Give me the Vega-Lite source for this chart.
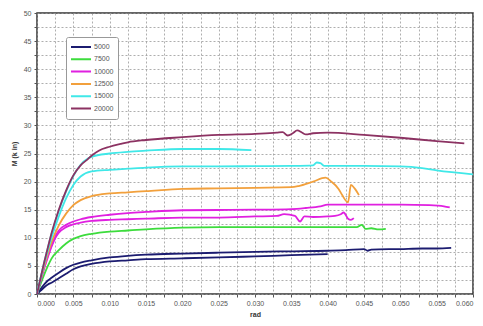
{
  "$schema": "https://vega.github.io/schema/vega-lite/v6.json",
  "width": 436,
  "height": 281,
  "autosize": {"type": "none"},
  "padding": {"left": 37, "top": 13, "right": 10, "bottom": 32},
  "background": "white",
  "config": {
    "view": {"stroke": "#333333", "strokeWidth": 1.5},
    "font": "Liberation Sans",
    "axis": {
      "labelFont": "Liberation Sans",
      "labelFontSize": 7,
      "labelColor": "#555555",
      "titleFont": "Liberation Sans",
      "titleFontSize": 7,
      "titleColor": "#333333",
      "gridColor": "#999999",
      "gridDash": [2, 2],
      "gridWidth": 0.8,
      "tickColor": "#555555",
      "tickSize": 3,
      "domain": false
    }
  },
  "data": {"values": [
    {"x":0,"m":0,"s":"5000","r":"5000a"},{"x":0.0005,"m":0.9,"s":"5000","r":"5000a"},{"x":0.001,"m":1.7,"s":"5000","r":"5000a"},{"x":0.0015,"m":2.4,"s":"5000","r":"5000a"},{"x":0.002,"m":2.9,"s":"5000","r":"5000a"},{"x":0.003,"m":3.8,"s":"5000","r":"5000a"},{"x":0.004,"m":4.6,"s":"5000","r":"5000a"},{"x":0.005,"m":5.2,"s":"5000","r":"5000a"},{"x":0.006,"m":5.6,"s":"5000","r":"5000a"},{"x":0.0075,"m":6.0,"s":"5000","r":"5000a"},{"x":0.01,"m":6.5,"s":"5000","r":"5000a"},{"x":0.0125,"m":6.8,"s":"5000","r":"5000a"},{"x":0.015,"m":7.0,"s":"5000","r":"5000a"},{"x":0.02,"m":7.2,"s":"5000","r":"5000a"},{"x":0.025,"m":7.35,"s":"5000","r":"5000a"},{"x":0.03,"m":7.5,"s":"5000","r":"5000a"},{"x":0.035,"m":7.6,"s":"5000","r":"5000a"},{"x":0.04,"m":7.7,"s":"5000","r":"5000a"},{"x":0.0425,"m":7.8,"s":"5000","r":"5000a"},{"x":0.045,"m":8.0,"s":"5000","r":"5000a"},{"x":0.0455,"m":7.7,"s":"5000","r":"5000a"},{"x":0.046,"m":7.9,"s":"5000","r":"5000a"},{"x":0.05,"m":8.0,"s":"5000","r":"5000a"},{"x":0.053,"m":8.1,"s":"5000","r":"5000a"},{"x":0.055,"m":8.1,"s":"5000","r":"5000a"},{"x":0.057,"m":8.2,"s":"5000","r":"5000a"},
    {"x":0,"m":0,"s":"5000","r":"5000b"},{"x":0.0005,"m":0.6,"s":"5000","r":"5000b"},{"x":0.001,"m":1.2,"s":"5000","r":"5000b"},{"x":0.0015,"m":1.7,"s":"5000","r":"5000b"},{"x":0.002,"m":2.0,"s":"5000","r":"5000b"},{"x":0.003,"m":2.8,"s":"5000","r":"5000b"},{"x":0.004,"m":3.6,"s":"5000","r":"5000b"},{"x":0.005,"m":4.4,"s":"5000","r":"5000b"},{"x":0.006,"m":4.9,"s":"5000","r":"5000b"},{"x":0.0075,"m":5.35,"s":"5000","r":"5000b"},{"x":0.01,"m":5.8,"s":"5000","r":"5000b"},{"x":0.0125,"m":6.0,"s":"5000","r":"5000b"},{"x":0.015,"m":6.2,"s":"5000","r":"5000b"},{"x":0.02,"m":6.35,"s":"5000","r":"5000b"},{"x":0.025,"m":6.5,"s":"5000","r":"5000b"},{"x":0.03,"m":6.7,"s":"5000","r":"5000b"},{"x":0.035,"m":6.9,"s":"5000","r":"5000b"},{"x":0.04,"m":7.1,"s":"5000","r":"5000b"},
    {"x":0,"m":0,"s":"7500","r":"7500"},{"x":0.0005,"m":1.8,"s":"7500","r":"7500"},{"x":0.001,"m":3.5,"s":"7500","r":"7500"},{"x":0.0015,"m":5.0,"s":"7500","r":"7500"},{"x":0.002,"m":6.3,"s":"7500","r":"7500"},{"x":0.003,"m":7.8,"s":"7500","r":"7500"},{"x":0.004,"m":9.0,"s":"7500","r":"7500"},{"x":0.005,"m":9.8,"s":"7500","r":"7500"},{"x":0.006,"m":10.3,"s":"7500","r":"7500"},{"x":0.0075,"m":10.7,"s":"7500","r":"7500"},{"x":0.01,"m":11.1,"s":"7500","r":"7500"},{"x":0.0125,"m":11.3,"s":"7500","r":"7500"},{"x":0.015,"m":11.5,"s":"7500","r":"7500"},{"x":0.02,"m":11.8,"s":"7500","r":"7500"},{"x":0.025,"m":11.9,"s":"7500","r":"7500"},{"x":0.03,"m":11.9,"s":"7500","r":"7500"},{"x":0.035,"m":11.9,"s":"7500","r":"7500"},{"x":0.04,"m":11.9,"s":"7500","r":"7500"},{"x":0.044,"m":11.9,"s":"7500","r":"7500"},{"x":0.0447,"m":12.3,"s":"7500","r":"7500"},{"x":0.0452,"m":11.6,"s":"7500","r":"7500"},{"x":0.046,"m":11.7,"s":"7500","r":"7500"},{"x":0.047,"m":11.5,"s":"7500","r":"7500"},{"x":0.048,"m":11.6,"s":"7500","r":"7500"},
    {"x":0,"m":0,"s":"10000","r":"10000a"},{"x":0.0005,"m":2.5,"s":"10000","r":"10000a"},{"x":0.001,"m":4.8,"s":"10000","r":"10000a"},{"x":0.0015,"m":6.8,"s":"10000","r":"10000a"},{"x":0.002,"m":8.7,"s":"10000","r":"10000a"},{"x":0.0025,"m":10.2,"s":"10000","r":"10000a"},{"x":0.003,"m":11.3,"s":"10000","r":"10000a"},{"x":0.004,"m":12.3,"s":"10000","r":"10000a"},{"x":0.005,"m":12.9,"s":"10000","r":"10000a"},{"x":0.006,"m":13.3,"s":"10000","r":"10000a"},{"x":0.0075,"m":13.7,"s":"10000","r":"10000a"},{"x":0.01,"m":14.1,"s":"10000","r":"10000a"},{"x":0.0125,"m":14.4,"s":"10000","r":"10000a"},{"x":0.015,"m":14.6,"s":"10000","r":"10000a"},{"x":0.02,"m":14.9,"s":"10000","r":"10000a"},{"x":0.025,"m":14.95,"s":"10000","r":"10000a"},{"x":0.03,"m":15.0,"s":"10000","r":"10000a"},{"x":0.035,"m":15.1,"s":"10000","r":"10000a"},{"x":0.037,"m":15.3,"s":"10000","r":"10000a"},{"x":0.039,"m":15.6,"s":"10000","r":"10000a"},{"x":0.04,"m":15.9,"s":"10000","r":"10000a"},{"x":0.045,"m":15.9,"s":"10000","r":"10000a"},{"x":0.05,"m":15.9,"s":"10000","r":"10000a"},{"x":0.054,"m":15.8,"s":"10000","r":"10000a"},{"x":0.056,"m":15.6,"s":"10000","r":"10000a"},{"x":0.0568,"m":15.4,"s":"10000","r":"10000a"},
    {"x":0,"m":0,"s":"10000","r":"10000b"},{"x":0.0005,"m":2.4,"s":"10000","r":"10000b"},{"x":0.001,"m":4.6,"s":"10000","r":"10000b"},{"x":0.0015,"m":6.6,"s":"10000","r":"10000b"},{"x":0.002,"m":8.4,"s":"10000","r":"10000b"},{"x":0.0025,"m":9.9,"s":"10000","r":"10000b"},{"x":0.003,"m":10.9,"s":"10000","r":"10000b"},{"x":0.004,"m":11.9,"s":"10000","r":"10000b"},{"x":0.005,"m":12.4,"s":"10000","r":"10000b"},{"x":0.006,"m":12.7,"s":"10000","r":"10000b"},{"x":0.0075,"m":13.0,"s":"10000","r":"10000b"},{"x":0.01,"m":13.2,"s":"10000","r":"10000b"},{"x":0.0125,"m":13.3,"s":"10000","r":"10000b"},{"x":0.015,"m":13.4,"s":"10000","r":"10000b"},{"x":0.02,"m":13.6,"s":"10000","r":"10000b"},{"x":0.025,"m":13.6,"s":"10000","r":"10000b"},{"x":0.03,"m":13.8,"s":"10000","r":"10000b"},{"x":0.033,"m":13.9,"s":"10000","r":"10000b"},{"x":0.034,"m":14.2,"s":"10000","r":"10000b"},{"x":0.0355,"m":13.9,"s":"10000","r":"10000b"},{"x":0.0362,"m":12.9,"s":"10000","r":"10000b"},{"x":0.0368,"m":13.8,"s":"10000","r":"10000b"},{"x":0.038,"m":13.7,"s":"10000","r":"10000b"},{"x":0.04,"m":13.8,"s":"10000","r":"10000b"},{"x":0.041,"m":13.9,"s":"10000","r":"10000b"},{"x":0.0418,"m":14.2,"s":"10000","r":"10000b"},{"x":0.0422,"m":14.5,"s":"10000","r":"10000b"},{"x":0.0428,"m":13.4,"s":"10000","r":"10000b"},{"x":0.0432,"m":13.2,"s":"10000","r":"10000b"},{"x":0.0436,"m":13.5,"s":"10000","r":"10000b"},
    {"x":0,"m":0,"s":"12500","r":"12500"},{"x":0.0005,"m":2.6,"s":"12500","r":"12500"},{"x":0.001,"m":5.0,"s":"12500","r":"12500"},{"x":0.0015,"m":7.2,"s":"12500","r":"12500"},{"x":0.002,"m":9.2,"s":"12500","r":"12500"},{"x":0.003,"m":12.2,"s":"12500","r":"12500"},{"x":0.004,"m":14.3,"s":"12500","r":"12500"},{"x":0.005,"m":15.8,"s":"12500","r":"12500"},{"x":0.006,"m":16.7,"s":"12500","r":"12500"},{"x":0.0075,"m":17.4,"s":"12500","r":"12500"},{"x":0.01,"m":17.9,"s":"12500","r":"12500"},{"x":0.0125,"m":18.1,"s":"12500","r":"12500"},{"x":0.015,"m":18.3,"s":"12500","r":"12500"},{"x":0.02,"m":18.7,"s":"12500","r":"12500"},{"x":0.025,"m":18.8,"s":"12500","r":"12500"},{"x":0.03,"m":18.9,"s":"12500","r":"12500"},{"x":0.035,"m":19.0,"s":"12500","r":"12500"},{"x":0.036,"m":19.2,"s":"12500","r":"12500"},{"x":0.038,"m":20.0,"s":"12500","r":"12500"},{"x":0.0397,"m":20.7,"s":"12500","r":"12500"},{"x":0.0405,"m":20.0,"s":"12500","r":"12500"},{"x":0.0415,"m":18.7,"s":"12500","r":"12500"},{"x":0.042,"m":17.6,"s":"12500","r":"12500"},{"x":0.0428,"m":16.3,"s":"12500","r":"12500"},{"x":0.0432,"m":19.4,"s":"12500","r":"12500"},{"x":0.0437,"m":18.8,"s":"12500","r":"12500"},{"x":0.0443,"m":17.6,"s":"12500","r":"12500"},
    {"x":0,"m":0,"s":"15000","r":"15000a"},{"x":0.0005,"m":2.9,"s":"15000","r":"15000a"},{"x":0.001,"m":5.7,"s":"15000","r":"15000a"},{"x":0.0015,"m":8.3,"s":"15000","r":"15000a"},{"x":0.002,"m":10.7,"s":"15000","r":"15000a"},{"x":0.003,"m":14.8,"s":"15000","r":"15000a"},{"x":0.004,"m":18.2,"s":"15000","r":"15000a"},{"x":0.005,"m":21.0,"s":"15000","r":"15000a"},{"x":0.006,"m":23.0,"s":"15000","r":"15000a"},{"x":0.007,"m":24.1,"s":"15000","r":"15000a"},{"x":0.0075,"m":24.4,"s":"15000","r":"15000a"},{"x":0.01,"m":25.0,"s":"15000","r":"15000a"},{"x":0.0125,"m":25.3,"s":"15000","r":"15000a"},{"x":0.015,"m":25.5,"s":"15000","r":"15000a"},{"x":0.02,"m":25.8,"s":"15000","r":"15000a"},{"x":0.025,"m":25.8,"s":"15000","r":"15000a"},{"x":0.0295,"m":25.6,"s":"15000","r":"15000a"},
    {"x":0,"m":0,"s":"15000","r":"15000b"},{"x":0.0005,"m":2.8,"s":"15000","r":"15000b"},{"x":0.001,"m":5.4,"s":"15000","r":"15000b"},{"x":0.0015,"m":7.8,"s":"15000","r":"15000b"},{"x":0.002,"m":10.0,"s":"15000","r":"15000b"},{"x":0.003,"m":13.8,"s":"15000","r":"15000b"},{"x":0.004,"m":17.0,"s":"15000","r":"15000b"},{"x":0.005,"m":19.4,"s":"15000","r":"15000b"},{"x":0.006,"m":20.9,"s":"15000","r":"15000b"},{"x":0.0075,"m":21.8,"s":"15000","r":"15000b"},{"x":0.01,"m":22.1,"s":"15000","r":"15000b"},{"x":0.0125,"m":22.3,"s":"15000","r":"15000b"},{"x":0.015,"m":22.5,"s":"15000","r":"15000b"},{"x":0.02,"m":22.7,"s":"15000","r":"15000b"},{"x":0.025,"m":22.7,"s":"15000","r":"15000b"},{"x":0.03,"m":22.75,"s":"15000","r":"15000b"},{"x":0.035,"m":22.8,"s":"15000","r":"15000b"},{"x":0.038,"m":22.9,"s":"15000","r":"15000b"},{"x":0.0385,"m":23.4,"s":"15000","r":"15000b"},{"x":0.039,"m":23.3,"s":"15000","r":"15000b"},{"x":0.0395,"m":22.8,"s":"15000","r":"15000b"},{"x":0.04,"m":22.8,"s":"15000","r":"15000b"},{"x":0.045,"m":22.8,"s":"15000","r":"15000b"},{"x":0.05,"m":22.7,"s":"15000","r":"15000b"},{"x":0.053,"m":22.4,"s":"15000","r":"15000b"},{"x":0.055,"m":22.0,"s":"15000","r":"15000b"},{"x":0.06,"m":21.3,"s":"15000","r":"15000b"},
    {"x":0,"m":0,"s":"20000","r":"20000"},{"x":0.0005,"m":2.9,"s":"20000","r":"20000"},{"x":0.001,"m":5.7,"s":"20000","r":"20000"},{"x":0.0015,"m":8.3,"s":"20000","r":"20000"},{"x":0.002,"m":10.8,"s":"20000","r":"20000"},{"x":0.003,"m":15.0,"s":"20000","r":"20000"},{"x":0.004,"m":18.4,"s":"20000","r":"20000"},{"x":0.005,"m":21.1,"s":"20000","r":"20000"},{"x":0.006,"m":22.9,"s":"20000","r":"20000"},{"x":0.007,"m":24.0,"s":"20000","r":"20000"},{"x":0.0075,"m":24.6,"s":"20000","r":"20000"},{"x":0.0085,"m":25.5,"s":"20000","r":"20000"},{"x":0.01,"m":26.2,"s":"20000","r":"20000"},{"x":0.0115,"m":26.7,"s":"20000","r":"20000"},{"x":0.0125,"m":27.0,"s":"20000","r":"20000"},{"x":0.015,"m":27.4,"s":"20000","r":"20000"},{"x":0.02,"m":27.9,"s":"20000","r":"20000"},{"x":0.025,"m":28.3,"s":"20000","r":"20000"},{"x":0.03,"m":28.5,"s":"20000","r":"20000"},{"x":0.033,"m":28.7,"s":"20000","r":"20000"},{"x":0.0338,"m":28.8,"s":"20000","r":"20000"},{"x":0.0345,"m":28.2,"s":"20000","r":"20000"},{"x":0.0352,"m":28.6,"s":"20000","r":"20000"},{"x":0.0358,"m":29.1,"s":"20000","r":"20000"},{"x":0.0365,"m":28.7,"s":"20000","r":"20000"},{"x":0.037,"m":28.4,"s":"20000","r":"20000"},{"x":0.038,"m":28.6,"s":"20000","r":"20000"},{"x":0.04,"m":28.7,"s":"20000","r":"20000"},{"x":0.045,"m":28.3,"s":"20000","r":"20000"},{"x":0.05,"m":27.8,"s":"20000","r":"20000"},{"x":0.055,"m":27.2,"s":"20000","r":"20000"},{"x":0.0588,"m":26.8,"s":"20000","r":"20000"}
  ]},
  "mark": {"type": "line", "strokeWidth": 1.8, "interpolate": "monotone"},
  "encoding": {
    "x": {
      "field": "x", "type": "quantitative",
      "scale": {"domain": [0, 0.06], "nice": false},
      "axis": {
        "title": "rad",
        "titlePadding": 4,
        "values": [0,0.0025,0.005,0.0075,0.01,0.0125,0.015,0.0175,0.02,0.0225,0.025,0.0275,0.03,0.0325,0.035,0.0375,0.04,0.0425,0.045,0.0475,0.05,0.0525,0.055,0.0575,0.06],
        "labelExpr": "round(datum.value*400) % 2 == 0 ? format(datum.value, '.3f') : ''",
        "labelPadding": 2
      }
    },
    "y": {
      "field": "m", "type": "quantitative",
      "scale": {"domain": [0, 50], "nice": false},
      "axis": {
        "title": "M (k in)",
        "titlePadding": 6,
        "values": [0,2.5,5,7.5,10,12.5,15,17.5,20,22.5,25,27.5,30,32.5,35,37.5,40,42.5,45,47.5,50],
        "labelExpr": "datum.value % 5 == 0 ? datum.label : ''",
        "labelPadding": 3
      }
    },
    "color": {
      "field": "s", "type": "nominal",
      "scale": {
        "domain": ["5000","7500","10000","12500","15000","20000"],
        "range": ["#1c1c70","#3ddc3d","#e020e0","#f2a03c","#40e8e8","#8c3262"]
      },
      "legend": {
        "title": null,
        "orient": "none",
        "legendX": 29,
        "legendY": 24,
        "symbolType": "stroke",
        "symbolSize": 400,
        "symbolStrokeWidth": 2,
        "clipHeight": 12,
        "rowPadding": 0.3,
        "labelOffset": 2,
        "labelFontSize": 7,
        "labelColor": "#555555",
        "labelFont": "Liberation Sans",
        "padding": 4,
        "fillColor": "white",
        "strokeColor": "#999999",
        "cornerRadius": 2
      }
    },
    "detail": {"field": "r", "type": "nominal"}
  }
}
